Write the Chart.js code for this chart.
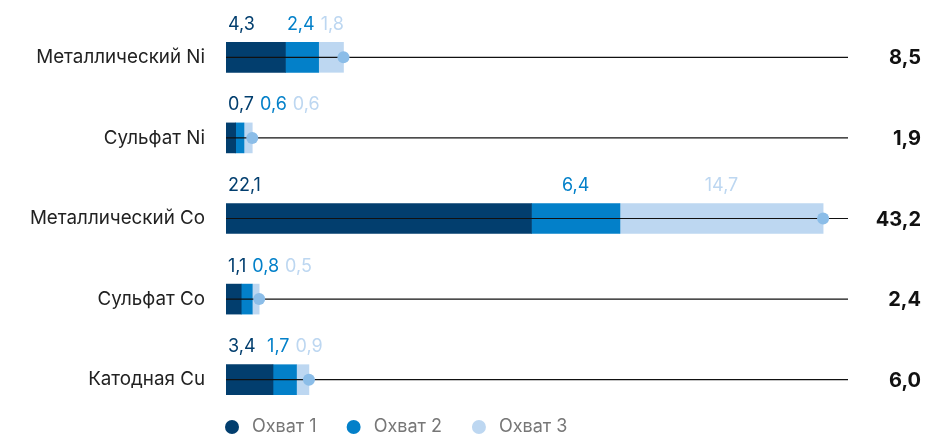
<!DOCTYPE html>
<html>
<head>
<meta charset="utf-8">
<script src="https://cdn.jsdelivr.net/npm/chart.js@4/dist/chart.umd.min.js"></script>
<style>
  html, body { margin: 0; padding: 0; background: #fff; }
  #wrap { width: 926px; height: 435px; }
</style>
</head>
<body>
<div id="wrap"><canvas id="chart" width="926" height="435"></canvas></div>
<script>
// data
const categories = ['Металлический Ni', 'Сульфат Ni', 'Металлический Co', 'Сульфат Co', 'Катодная Cu'];
const seriesNames = ['Охват 1', 'Охват 2', 'Охват 3'];
const scope1 = [4.3, 0.7, 22.1, 1.1, 3.4];
const scope2 = [2.4, 0.6, 6.4, 0.8, 1.7];
const scope3 = [1.8, 0.6, 14.7, 0.5, 0.9];
const totals = [8.5, 1.9, 43.2, 2.4, 6.0];

const colors = ['#023e6e', '#0380c9', '#bdd7f1'];
const dotColor = '#8bbde8';
const FONT = 'Inter, "Noto Sans", sans-serif';

const fmt = v => v.toFixed(1).replace('.', ',');

// place segment labels: first at bar start, others centred on their segment,
// then nudge apart so they do not overlap
function placeLabels(ctx, xs, vals) {
  const GAP = 6;
  const items = [];
  let start = 0;
  vals.forEach((v, k) => {
    const txt = fmt(v);
    const w = ctx.measureText(txt).width;
    const a = xs.getPixelForValue(start);
    const b = xs.getPixelForValue(start + v);
    const x = k === 0 ? a + 2 : (a + b) / 2 - w / 2;
    items.push({ txt, w, x });
    start += v;
  });
  for (let iter = 0; iter < 4; iter++) {
    for (let k = 0; k < items.length - 1; k++) {
      const p = items[k], n = items[k + 1];
      const o = p.x + p.w + GAP - n.x;
      if (o <= 0) continue;
      if (k === 0) { n.x += o; continue; }
      const prev = items[k - 1];
      const room = Math.max(0, p.x - (prev.x + prev.w + GAP));
      const left = Math.min(room, o / 2);
      p.x -= left;
      n.x += o - left;
    }
  }
  return items;
}

// line + dot + value labels + totals + legend
const decorations = {
  id: 'decorations',
  afterDatasetsDraw(chart) {
    const ctx = chart.ctx;
    const area = chart.chartArea;
    const xs = chart.scales.x;
    const ys = chart.scales.y;
    const series = [scope1, scope2, scope3];
    ctx.save();
    categories.forEach((cat, i) => {
      const y = ys.getPixelForValue(i);
      // reference line
      ctx.strokeStyle = '#111';
      ctx.lineWidth = 1.2;
      ctx.beginPath();
      ctx.moveTo(area.left, y);
      ctx.lineTo(area.right, y);
      ctx.stroke();
      // dot at total
      ctx.fillStyle = dotColor;
      ctx.beginPath();
      ctx.arc(xs.getPixelForValue(totals[i]), y, 6, 0, Math.PI * 2);
      ctx.fill();
      // segment labels
      ctx.font = '18px ' + FONT;
      ctx.textBaseline = 'middle';
      ctx.textAlign = 'left';
      const items = placeLabels(ctx, xs, series.map(s => s[i]));
      items.forEach((it, k) => {
        ctx.fillStyle = colors[k];
        ctx.fillText(it.txt, it.x, y - 33);
      });
      // total
      ctx.font = 'bold 20px ' + FONT;
      ctx.textAlign = 'right';
      ctx.fillStyle = '#111';
      ctx.fillText(fmt(totals[i]), 921, y + 1);
    });
    // legend
    let lx = 225;
    const ly = 427;
    ctx.font = '18px ' + FONT;
    ctx.textAlign = 'left';
    seriesNames.forEach((name, k) => {
      ctx.fillStyle = colors[k];
      ctx.beginPath();
      ctx.arc(lx + 7, ly, 7, 0, Math.PI * 2);
      ctx.fill();
      ctx.fillStyle = '#777';
      ctx.fillText(name, lx + 27, ly);
      lx += 27 + ctx.measureText(name).width + 30;
    });
    ctx.restore();
  }
};

new Chart(document.getElementById('chart'), {
  type: 'bar',
  data: {
    labels: categories,
    datasets: [
      { label: seriesNames[0], data: scope1, backgroundColor: colors[0] },
      { label: seriesNames[1], data: scope2, backgroundColor: colors[1] },
      { label: seriesNames[2], data: scope3, backgroundColor: colors[2] }
    ]
  },
  options: {
    indexAxis: 'y',
    responsive: false,
    animation: false,
    datasets: { bar: { barThickness: 30, borderWidth: 0 } },
    layout: { padding: { left: 0, right: 78, top: 17, bottom: 15 } },
    scales: {
      x: { stacked: true, display: false, min: 0, max: 45 },
      y: {
        stacked: true,
        grid: { display: false, drawTicks: false },
        border: { display: false },
        ticks: { color: '#222', padding: 21, font: { size: 18.8, family: FONT } },
        afterFit(scale) {
          scale.width = 226;
          scale.paddingTop = 0;
          scale.paddingBottom = 0;
        }
      }
    },
    plugins: {
      legend: { display: false },
      tooltip: { enabled: false }
    }
  },
  plugins: [decorations]
});
</script>
</body>
</html>
